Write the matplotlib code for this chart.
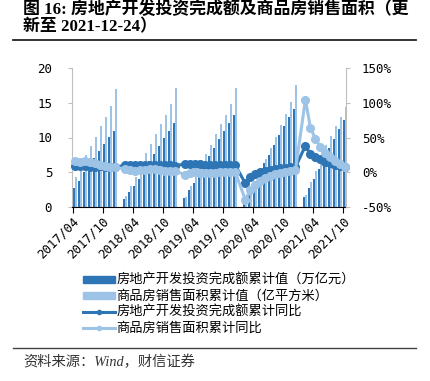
import matplotlib
matplotlib.use("Agg")
import matplotlib.pyplot as plt
from matplotlib.lines import Line2D
from matplotlib.ticker import FuncFormatter
import numpy as np

plt.rcParams['font.family'] = ['DejaVu Sans Mono', 'Noto Sans CJK SC']

# ---------------- data ----------------
months = (
    ["2017-%02d" % m for m in range(4, 13)] +
    ["2018-%02d" % m for m in range(2, 13)] +
    ["2019-%02d" % m for m in range(2, 13)] +
    ["2020-%02d" % m for m in range(2, 13)] +
    ["2021-%02d" % m for m in range(2, 11)]
)

invest_cum = [2.77, 3.70, 5.06, 5.98, 6.97, 8.06, 9.05, 10.04, 10.98,
              1.09, 2.13, 3.06, 4.06, 5.55, 6.58, 7.65, 8.82, 9.93, 11.01, 12.03,
              1.21, 2.38, 3.42, 4.61, 6.16, 7.28, 8.46, 9.80, 10.96, 12.13, 13.22,
              1.01, 2.20, 3.31, 4.59, 6.28, 7.41, 8.85, 10.35, 11.66, 12.95, 14.14,
              1.40, 2.76, 4.02, 5.43, 7.22, 8.49, 9.81, 11.26, 12.49]

sales_cum = [4.28, 5.96, 7.47, 8.70, 10.13, 11.66, 12.91, 14.62, 16.94,
             1.53, 3.02, 4.34, 6.14, 7.71, 9.07, 10.53, 11.98, 13.19, 14.83, 17.17,
             1.41, 2.98, 4.27, 6.06, 7.58, 8.96, 10.47, 11.98, 13.31, 14.88, 17.16,
             0.85, 2.20, 3.45, 5.31, 6.94, 8.44, 10.12, 11.76, 13.33, 15.07, 17.61,
             1.73, 3.61, 5.10, 7.23, 8.86, 10.25, 11.73, 13.01, 14.34]

invest_yoy = [9.3, 8.8, 8.5, 7.9, 7.9, 8.1, 7.8, 7.5, 7.0,
              9.9, 10.4, 10.3, 10.2, 9.7, 10.2, 10.1, 9.9, 9.7, 9.7, 9.5,
              11.6, 11.8, 11.9, 11.2, 10.9, 10.6, 10.5, 10.5, 10.3, 10.2, 9.9,
              -16.3, -7.7, -3.3, -0.3, 1.9, 3.4, 4.6, 5.6, 6.3, 6.8, 7.0,
              38.3, 25.6, 21.6, 18.3, 15.0, 12.7, 10.9, 8.8, 7.2]

sales_yoy = [15.7, 14.3, 16.1, 15.0, 12.7, 10.3, 8.2, 7.9, 7.7,
             4.1, 3.6, 1.3, 2.9, 3.3, 4.2, 4.0, 2.9, 2.2, 1.4, 1.3,
             -3.6, -0.9, -0.3, -1.6, -1.8, -1.3, -0.6, -0.1, 0.1, 0.2, -0.1,
             -39.9, -26.3, -19.3, -12.3, -8.4, -5.8, -3.3, -1.8, 0.0, 1.3, 2.6,
             104.9, 63.8, 48.1, 36.3, 27.7, 21.5, 15.9, 11.3, 7.5]

tick_labels = ["2017/04", "2017/10", "2018/04", "2018/10", "2019/04",
               "2019/10", "2020/04", "2020/10", "2021/04", "2021/10"]

labels = ["房地产开发投资完成额累计值（万亿元）",
          "商品房销售面积累计值（亿平方米）",
          "房地产开发投资完成额累计同比",
          "商品房销售面积累计同比"]

title_l1 = "图 16: 房地产开发投资完成额及商品房销售面积（更"
title_l2 = "新至 2021-12-24）"
source = "资料来源：Wind，财信证券"

# ---------------- helpers ----------------
def month_index(s):
    y, m = s.split("-")
    return (int(y) - 2017) * 12 + int(m) - 4

x = np.array([month_index(m) for m in months], dtype=float)
tick_pos = [month_index(t.replace("/", "-")) for t in tick_labels]

dark = "#2E75B6"
light = "#9DC3E6"
gray = "#BFBFBF"

fig = plt.figure(figsize=(4.31, 3.81), dpi=100)
ax = fig.add_axes([72.3 / 431, 1 - 206.7 / 381, (346 - 72.3) / 431, (206.7 - 68.3) / 381])

w = 0.38
ax.bar(x + 0.1, invest_cum, width=w, color=dark, align='edge', zorder=2)
ax.bar(x + 0.1 + w, sales_cum, width=w, color=light, align='edge', zorder=2)
ax.set_ylim(0, 20)
ax.set_yticks([0, 5, 10, 15, 20])
ax.set_xlim(-0.05, 54.6)
ax.set_xticks(tick_pos)
ax.set_xticklabels(tick_labels, rotation=45, ha='right', va='top', rotation_mode='anchor')

ax2 = ax.twinx()
ax2.plot(x + 0.5, invest_yoy, color=dark, lw=2.2, marker='o', ms=5.5, zorder=3, clip_on=False)
ax2.plot(x + 0.5, sales_yoy, color=light, lw=2.2, marker='o', ms=5.5, zorder=4, clip_on=False)
ax2.set_ylim(-50, 150)
ax2.set_yticks([-50, 0, 50, 100, 150])
ax2.yaxis.set_major_formatter(FuncFormatter(lambda v, p: "%d%%" % v))

for a in (ax, ax2):
    a.spines['top'].set_visible(False)
ax.spines['left'].set_color(gray)
ax.spines['right'].set_visible(False)
ax.spines['bottom'].set_color('black')
ax2.spines['left'].set_visible(False)
ax2.spines['bottom'].set_visible(False)
ax2.spines['right'].set_color(gray)

ax.tick_params(axis='y', length=3, color=gray, labelsize=9, pad=11.5, labelcolor='#000000')
ax.tick_params(axis='x', length=4, color='black', labelsize=9, pad=2)
ax2.tick_params(axis='y', length=3, color=gray, labelsize=9, pad=8.5)

handles = [
    plt.Rectangle((0, 0), 1, 1, color=dark),
    plt.Rectangle((0, 0), 1, 1, color=light),
    Line2D([], [], color=dark, lw=2.2, marker='o', ms=3),
    Line2D([], [], color=light, lw=2.2, marker='o', ms=3),
]
leg = fig.legend(handles, labels, loc='upper left', bbox_to_anchor=(83 / 431, 1 - 274 / 381),
                 frameon=False, borderpad=0, borderaxespad=0, handlelength=2.4,
                 handleheight=0.45, handletextpad=0.15, labelspacing=0.22,
                 prop={'family': ['Noto Sans CJK SC'], 'size': 9.5})

# title
tfam = ['Liberation Serif', 'Noto Sans CJK SC']
fig.text(23 / 431, 1 - 9.5 / 381, title_l1, ha='left', va='center', fontsize=12.2,
         fontweight='bold', family=tfam)
fig.text(23 / 431, 1 - 27 / 381, title_l2, ha='left', va='center', fontsize=12.2,
         fontweight='bold', family=tfam)
fig.add_artist(Line2D([13 / 431, 416 / 431], [1 - 39.5 / 381] * 2, color='#222222', lw=1.3))
fig.add_artist(Line2D([13 / 431, 416 / 431], [1 - 347.7 / 381] * 2, color='#444444', lw=1.0))
fig.text(23 / 431, 1 - 362 / 381, source, ha='left', va='center', fontsize=10.3,
         style='italic', color='#333333', family=['Liberation Serif', 'Noto Sans CJK SC'])

fig.savefig("out.png", dpi=100)
